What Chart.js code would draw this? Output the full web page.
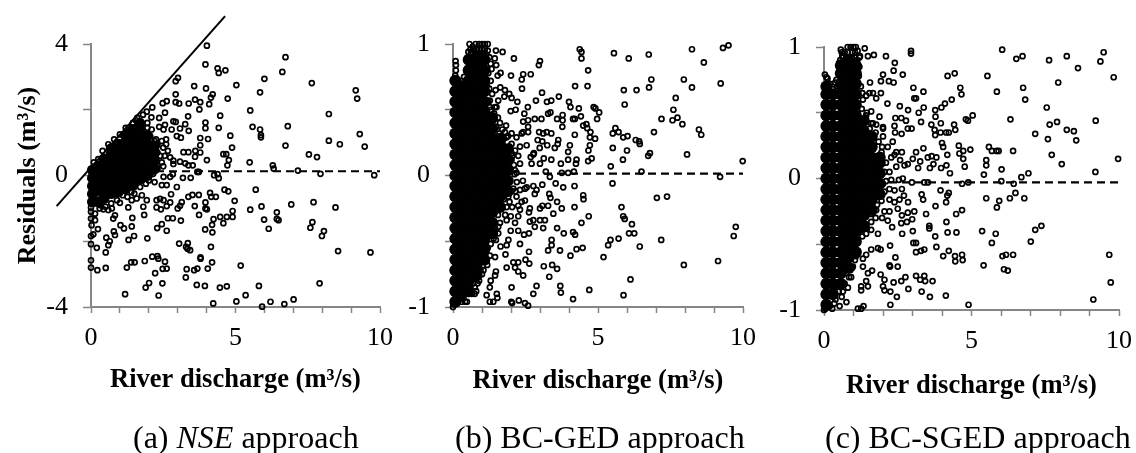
<!DOCTYPE html>
<html>
<head>
<meta charset="utf-8">
<title>Residuals vs river discharge</title>
<script src="https://cdn.jsdelivr.net/npm/chart.js@4"></script>
<style>
  html, body { margin: 0; padding: 0; background: #fff; }
  body { position: relative; width: 1136px; height: 453px; overflow: hidden; }
  .panel { position: absolute; top: 0; height: 420px; }
  .caption { position: absolute; top: 419px; font: 32px "Liberation Serif", serif; color: #000; white-space: nowrap; }
</style>
</head>
<body>
<div class="panel" style="left:0;width:400px"><canvas id="chartA"></canvas></div>
<div class="panel" style="left:380px;width:380px"><canvas id="chartB"></canvas></div>
<div class="panel" style="left:770px;width:366px"><canvas id="chartC"></canvas></div>
<div class="caption" style="left:133px">(a) <i>NSE</i> approach</div>
<div class="caption" style="left:455px">(b) BC-GED approach</div>
<div class="caption" style="left:825px">(c) BC-SGED approach</div>

<script>
// values: [discharge, residual]
const xTickLabels = [0, 5, 10];
const yTickLabelsA = [-4, 0, 4];
const yTickLabelsBC = [-1, 0, 1];
const xAxisTitle = 'River discharge (m³/s)';
const yAxisTitle = 'Residuals (m³/s)';

const boundA = [[-1.19, -0.93], [4.64, 4.85]];
const trendA = [[0, 0.13], [10, 0.13]];
const trendB = [[0, 0.015], [10, 0.015]];
const trendC = [[0, -0.03], [10, -0.03]];

const pointsA = [[4.01,3.95],[3.96,3.38],[4.38,3.26],[4.42,3.12],[4.65,3.2],[5.03,2.75],[3.01,2.97],[2.93,2.87],[3.57,2.72],[3.98,2.65],
[2.93,2.47],[4.21,2.47],[4.15,2.37],[4.73,2.34],[3.6,2.31],[3.78,2.23],[3.38,2.19],[4.09,2.17],[3.75,2.01],[2.62,2.26],[2.48,2.2],[2.93,2.23],[3.05,2.19],
[2.12,2.07],[1.93,1.94],[2.09,1.77],[2.36,1.75],[2.56,1.91],[3.36,1.8],[4.47,1.82],[3.96,1.61],[3.96,1.44],[4.42,1.45],[2.85,1.65],[2.93,1.63],[3.26,1.56],
[3.08,1.43],[3.38,1.36],[2.97,1.2],[3.11,1.15],[2.36,1.48],[2.56,1.54],[2.51,1.4],[2.79,1.4],[3.78,1.14],[4.05,1.11],[4.82,1.21],[4.88,0.85],[3.78,0.92],
[3.61,0.75],[3.2,0.71],[3.37,0.71],[3.78,0.7],[3.6,0.57],[4.01,0.47],[4.58,0.65],[4.68,0.65],[4.77,0.47],[4.72,0.31],[2.66,0.75],[2.74,0.55],[2.85,0.45],
[2.85,0.35],[3.08,0.42],[3.26,0.37],[3.37,0.31],[3.52,0.31],[3.68,0.11],[3.73,0.11],[3.18,-0.07],[3.45,-0.07],[2.83,0.04],[2.74,-0.04],[2.97,-0.35],[2.51,-0.04],
[2.45,-0.29],[2.62,-0.29],[4.26,0.01],[4.38,0.04],[4.42,-0.08],[5.49,0.4],[6.29,0.31],[6.32,0.21],[7.16,0.15],[7.94,0.05],[9.8,0.01],[5.51,1.98],[5.59,1.48],
[5.85,2.53],[6,2.94],[6.62,3.15],[6.73,3.6],[7.64,2.81],[9.16,2.59],[9.21,2.34],[8.23,1.87],[9.3,1.26],[9.47,0.88],[8.23,1.06],[8.61,0.95],[6.81,1.5],[6.73,0.91],
[5.85,1.4],[5.88,1.23],[5.88,1.16],[7.54,0.64],[7.82,0.56],[5.7,-0.43],[4.62,-0.43],[4.75,-0.48],[4.12,-0.53],[4.16,-0.65],[4.32,-0.65],[4.97,-0.77],[3.96,-0.82],
[3.96,-1],[4.01,-1.03],[3.73,-0.59],[3.51,-0.59],[3.37,-0.65],[3.59,-0.93],[3.14,-0.81],[3.08,-0.92],[3,-1],[5.51,-1.04],[5.9,-0.94],[6.43,-1.12],[6.93,-0.88],
[7.7,-0.81],[8.46,-0.97],[3.74,-1.2],[4.9,-1.08],[4.9,-1.26],[4.7,-1.26],[4.47,-1.26],[4.24,-1.33],[4.58,-1.45],[4.19,-1.5],[3.95,-1.64],[4.2,-1.73],[5.99,-1.34],
[6.43,-1.32],[6.49,-1.36],[6.15,-1.62],[7.66,-1.42],[7.59,-1.59],[8.06,-1.69],[7.99,-1.84],[8.55,-2.3],[9.67,-2.34],[5.18,-2.74],[7.91,-3.28],[5.81,-3.36],[5.35,-3.64],
[5.03,-3.83],[5.92,-3.99],[6.21,-3.84],[6.69,-3.91],[7.01,-3.77],[4.23,-3.89],[4.7,-3.37],[4.46,-3.41],[3.94,-3.36],[3.66,-3.33],[3.28,-3.1],[3.31,-2.85],[3.57,-2.88],
[3.68,-2.83],[4.04,-2.83],[4.19,-2.64],[3.79,-2.49],[3.79,-2.53],[4.15,-2.17],[3.05,-2.07],[3.35,-2.06],[3.29,-2.17],[3.34,-2.23],[3.43,-2.27],[3.11,-1.37],[2.66,-1.3],
[2.83,-1.3],[2.29,-1.6],[2.45,-1.48],[2.62,-1.68],[1.95,-1.91],[1.84,-1.2],[1.43,-1.29],[1.41,-1.55],[1.14,-1.61],[1.02,-1.51],[1.3,-1.96],[1.49,-1.84],[0.79,-1.7],
[0.83,-1.81],[0.65,-2],[0.53,-1.89],[0.6,-2.12],[0.51,-2.34],[0.24,-1.63],[0.08,-1.79],[0,-1.84],[0,-2.09],[0.2,-2.2],[0,-2.58],[0,-2.8],[0.22,-2.88],[0.51,-2.81],
[1.24,-2.8],[1.39,-2.64],[1.51,-2.64],[1.86,-2.6],[2.12,-2.47],[2.3,-2.45],[2.33,-2.53],[2.56,-2.62],[2.48,-2.84],[2.62,-2.83],[2.22,-2.97],[2.01,-3.27],[1.89,-3.41],
[2.47,-3.28],[2.34,-3.65],[1.18,-3.61],[2.27,-0.75],[2.39,-0.71],[1.93,-0.75],[1.76,-0.6],[1.58,-0.7],[1.41,-0.75],[1.26,-0.65],[1.29,-0.97],[1,-0.83],[0.83,-1.21],
[0.77,-1.31],[0.72,-1],[0.6,-1.05],[0.43,-1.03],[1.81,-0.95],[2.27,-0.97],[2.42,-1.03],[2.62,-0.93],[2.74,-0.82],[2.77,-0.57],[2.51,-0.75],[0,-0.97],[0,-1.31],[0.14,-1.16],
[0.02,-1.51],[0.14,-1.36],[1.6,1.75],[1.8,1.85],[1.45,1.6],[1.3,1.45],[1.72,1.65],[1.55,1.68],[1.95,1.6],[2.1,1.4],[2.25,1.1],[2.45,1.05],[2.6,0.95],[2.5,0.85],[2.3,0.7],
[2.45,0.4],[2.3,0.2],[2.5,0.28],[2.15,0.05],[2,-0.15],[2.2,-0.2],[1.7,-0.35],[1.4,-0.5],[1.1,-0.6],[0.5,-0.95],[0.3,-0.9],[2.6,1.1],[2.05,1.2],[2.55,0.6],
[0,0.2],[0.1,0.4],[0.25,0.5],[0.4,0.75],[0.6,0.95],[0.8,1.1],[1,1.25],[1.2,1.45],[2.4,0.6],[2.3,0.3],[2.2,1.05],[2.3,0.95],[1.95,1.45],[2.1,0.1],[1.9,-0.25],[1.5,-0.55],[0.9,-0.75],[0.3,-1],[0.7,-0.85],[0,-1.1]];

const pointsB = [[0.57,1],[0.53,0.94],[1.48,0.95],[1.71,0.94],[1.44,0.89],[1.49,0.84],[1.33,0.81],[1.18,0.81],[2.1,0.89],[3,0.87],[2.96,0.84],[4.37,0.96],[4.43,0.94],[4.43,0.89],
[4.66,0.8],[5.55,0.93],[6.06,0.89],[6.75,0.92],[8.24,0.96],[8.65,0.86],[9.31,0.97],[9.5,0.99],[9.23,0.7],[7.96,0.73],[6.84,0.73],[6.76,0.67],[6.33,0.65],[5.89,0.65],[8.24,0.67],
[7.68,0.59],[5.92,0.54],[7.6,0.5],[7.19,0.43],[7.57,0.42],[7.74,0.44],[7.91,0.39],[8.48,0.35],[8.56,0.31],[6.93,0.33],[5.6,0.36],[5.51,0.32],[5.71,0.33],[5.87,0.29],[6.02,0.3],
[6.3,0.27],[6.42,0.26],[6.44,0.24],[5.51,0.21],[6,0.19],[5.86,0.12],[6.73,0.15],[6.79,0.17],[8.07,0.16],[9.99,0.11],[5.44,0.07],[6.5,0.03],[9.21,-0.01],[5.5,-0.06],[7.03,-0.17],
[7.38,-0.16],[5.81,-0.24],[5.87,-0.31],[5.92,-0.33],[6.17,-0.37],[6.07,-0.44],[6.25,-0.44],[9.75,-0.39],[9.68,-0.46],[5.71,-0.48],[5.43,-0.49],[5.35,-0.53],[7.18,-0.49],[6.44,-0.54],
[5.19,-0.62],[7.96,-0.68],[9.14,-0.65],[6.12,-0.79],[5.88,-0.91],[4.7,-0.87],[4.14,-0.94],[4.68,-0.31],[4.43,-0.36],[4.49,-0.15],[4.5,-0.18],[4.19,-0.08],[4.19,-0.24],[4.21,0.68],
[4.64,0.68],[3.65,0.6],[4,0.56],[4.05,0.52],[4.34,0.51],[4.85,0.52],[4.91,0.51],[5.04,0.48],[4.97,0.43],[3.07,0.63],[2.86,0.57],[3.24,0.56],[3.39,0.57],[2.58,0.52],[2.46,0.47],
[2.16,0.5],[1.99,0.49],[2.38,0.66],[2.37,0.73],[2.42,0.77],[2.68,0.77],[2,0.76],[1.64,0.78],[1.54,0.76],[1.47,0.65],[1.63,0.67],[1.79,0.65],[1.94,0.62],[1.77,0.6],[2.02,0.59],
[2.22,0.56],[3.28,0.47],[3.36,0.48],[3.59,0.43],[3.78,0.46],[3.78,0.42],[3.77,0.37],[4.14,0.43],[4.2,0.43],[4.41,0.45],[4.49,0.38],[4.6,0.39],[4.63,0.36],[4.74,0.33],[4.72,0.29],
[4.9,0.28],[4.2,0.31],[3.63,0.27],[3.61,0.24],[2.97,0.33],[3.11,0.32],[3.23,0.33],[3.39,0.32],[2.92,0.27],[3.08,0.26],[2.99,0.21],[3.25,0.23],[3.51,0.21],[4.03,0.23],[3.97,0.18],
[4.72,0.23],[4.67,0.19],[4.78,0.13],[4.66,0.11],[4.26,0.12],[4.24,0.09],[3.97,0.12],[3.72,0.09],[3.39,0.12],[3.13,0.13],[3,0.09],[2.71,0.09],[2.68,0.14],[2.79,0.17],[3.2,0.03],
[3.34,-0.01],[3.54,-0.06],[3.8,-0.09],[3.75,0.02],[3.97,0.02],[4.17,0.03],[3.08,-0.07],[2.41,-0.04],[2.54,-0.09],[2.77,-0.08],[2.88,-0.11],[2.82,-0.14],[3.32,-0.14],[3.36,-0.17],
[3.59,-0.2],[3.75,-0.25],[3.28,-0.23],[3.08,-0.23],[3,-0.25],[3.46,-0.29],[2.65,-0.25],[2.62,-0.28],[2.77,-0.34],[2.65,-0.35],[3,-0.34],[3.17,-0.34],[3.11,-0.4],[2.82,-0.39],
[3.59,-0.4],[3.82,-0.44],[4.14,-0.43],[4.21,-0.45],[3.4,-0.49],[3.4,-0.53],[3.28,-0.57],[3.69,-0.57],[4.26,-0.56],[4.47,-0.55],[4.05,-0.61],[2.62,-0.58],[2.5,-0.64],[2.63,-0.67],
[3.13,-0.69],[3.42,-0.68],[3.59,-0.71],[3.32,-0.77],[3.7,-0.84],[3.72,-0.89],[2.88,-0.84],[2.77,-0.9],[2.02,-0.85],[2.01,-0.96],[2.04,-0.97],[2.27,-0.95],[2.48,-0.97],[2.59,-0.99],
[1.85,-0.7],[2.08,-0.66],[2.25,-0.66],[2.14,-0.7],[2.25,-0.73],[2.42,-0.76],[2.31,-0.52],[2.45,-0.45],[2.62,-0.44],[2.25,-0.42],[1.99,-0.42],[1.85,-0.53],[1.91,-0.49],[1.64,-0.54],
[1.81,-0.6],[1.27,-0.61],[1.45,-0.62],[1.18,-0.68],[1.48,-0.73],[1.45,-0.76],[1.3,-0.8],[1.27,-0.85],[1.16,-0.91],[1.27,-0.96],[1.39,-0.96],[1.53,-0.93],[1.51,-0.9],[1.85,-0.34],
[1.99,-0.31],[2.14,-0.36],[2.25,-0.31],[1.56,-0.39],[1.45,-0.4],[1.27,-0.4],[1.56,-0.44],[1.48,-0.49],[1.68,-0.24],[1.85,-0.24],[2.04,-0.24],[2.25,-0.23],[2.37,-0.2],[2.48,-0.19],
[2.31,-0.26],[2.19,-0.16],[2.02,-0.12],[1.91,-0.16],[2.08,-0.1],[2.31,-0.11],[2.48,-0.1],[2.19,0.02],[2.14,0.04],[2.31,0.09],[2.25,0.15],[2.02,0.17],[2.02,0.12],[2.14,0.19],[2.31,0.22],
[2.54,0.23],[2.77,0.16],[2.37,0.32],[2.42,0.33],[2.59,0.33],[2.59,0.37],[2.42,0.41],[2.82,0.43],[3.05,0.43],[2.59,0.42],[1.39,0.42],[1.62,0.4],[1.83,0.38],[1.79,0.33],[2.02,0.32],
[2.19,0.29],[1.85,0.29],[2.02,0.24],[1.16,0.68],[1.27,0.57],[1.5,0.52],[1.56,0.57],[1.27,0.52],[1.1,0.73],[0.78,1],[0.9,1],[1,1],[1.1,1],[1.2,1],[0.68,0.98],[0.62,0.93],[1.2,0.95],
[1.25,0.9],[0.09,0.87],[0.1,0.84],[0.1,0.8],[0.08,0.76],[0.12,0.73],[0,-1],[0.02,-0.98],[0.05,-0.95],[0.22,-0.92],[0.35,-0.93],[0.42,-0.96],[0.48,-0.96],[0.5,-0.8],[0.6,-0.85],
[0.75,-0.85],[0.55,-0.9],[0.75,-0.9],[0.8,-0.88],[0.85,-0.82],[0.9,-0.8],[1,-0.75],[0.9,-0.7],[1.05,-0.72],[1.15,-0.65],
[1.3,0.85],[1.22,0.78],[1.3,0.72],[1.25,0.66],[1.35,0.62],[1.3,0.5],[1.42,0.47],[1.55,0.44],[1.5,0.37],[1.7,0.35],[1.75,0.28],[1.9,0.3],[1.95,0.22],[2.05,0.15],[2.1,0.08],[2.12,0.01],
[2.2,-0.05],[2.15,-0.12],[1.95,-0.2],[1.75,-0.18],[1.8,-0.3],[1.55,-0.3],[1.62,-0.36],[1.4,-0.48],[1.3,-0.52],[1.2,-0.55],[1.1,-0.6],[1.05,-0.65],[0.95,-0.72],[0.9,-0.76],[0.7,-0.82],
[0.65,-0.9],[0.4,-0.88],[0.3,-0.96],[0.15,-0.97],[1.6,0.05],[1.75,0.1],[1.8,-0.05],[1.7,0.2],[1.6,0.32],[1.45,0.52],[1.15,0.7],[1.22,0.56],[1.4,0.3],[1.78,-0.12],[1.15,-0.5],
[0.2,0.7],[0.3,0.72],[0.38,0.75],[0.42,0.7],[0.45,0.66],
[0.6,0.96],[0.7,0.96],[0.8,0.96],[0.9,0.96],[1,0.96],[1.1,0.96],[0.65,0.92],[0.75,0.92],[0.85,0.92],[0.95,0.92],[1.05,0.92],[1.15,0.92],[0.55,0.9]];

const pointsC = [[6.04,0.98],[6.52,0.91],[6.73,0.93],[7.63,0.9],[8.23,0.93],[9.48,0.96],[9.37,0.89],[8.61,0.84],[9.82,0.77],[5.54,0.78],[7.94,0.73],[6.75,0.69],[6.82,0.6],[5.86,0.66],
[7.55,0.54],[6.32,0.45],[9.21,0.44],[7.65,0.41],[7.9,0.43],[8.23,0.37],[8.47,0.36],[8.55,0.29],[7.16,0.34],[7.59,0.3],[7.72,0.18],[8.06,0.11],[9.97,0.15],[9.2,0.05],[6.93,0.04],
[6.69,0.01],[5.59,0.24],[5.69,0.21],[5.85,0.21],[5.92,0.21],[6.41,0.21],[5.5,0.14],[5.5,0.1],[6.02,0.07],[5.42,0.03],[6.01,-0.02],[6.43,-0.04],[6.49,-0.11],[5.5,-0.15],[5.94,-0.17],
[5.86,-0.22],[6.3,-0.15],[6.79,-0.15],[7.37,-0.36],[7.16,-0.39],[7.01,-0.48],[5.36,-0.4],[5.82,-0.42],[5.69,-0.49],[6.41,-0.58],[6.17,-0.58],[6.05,-0.59],[5.41,-0.66],[6.1,-0.69],
[6.23,-0.7],[9.67,-0.58],[9.72,-0.79],[9.13,-0.92],[4.9,-0.96],[4.13,-0.89],[5.04,0.48],[4.81,0.45],[4.88,0.44],[4.33,0.6],[4.19,0.78],[4.43,0.8],[4.62,0.69],[4.66,0.64],[3.03,0.69],
[3.37,0.66],[3.06,0.61],[3.12,0.61],[2.95,0.97],[2.95,0.95],[2.4,0.88],[2.36,0.82],[2.67,0.79],[2.1,0.93],[1.69,0.94],[1.49,0.93],[2,0.79],[1.93,0.74],[2.2,0.74],[2.36,0.73],[1.56,0.73],
[1.93,0.65],[2.15,0.57],[2.57,0.55],[2.85,0.52],[3.38,0.54],[3.21,0.5],[3.77,0.52],[3.78,0.47],[3.98,0.54],[4.1,0.57],[3.29,0.43],[3.64,0.41],[3.96,0.42],[4.41,0.41],[4.45,0.37],
[4.14,0.35],[4.23,0.35],[3.95,0.35],[3.75,0.37],[3.77,0.33],[4,0.27],[4.04,0.24],[4.57,0.25],[4.18,0.18],[4.59,0.19],[4.72,0.21],[4.96,0.22],[4.72,0.15],[4.77,0.09],[4.15,0.1],
[3.97,0.08],[4.27,0.04],[3.71,0.11],[3.59,0.08],[3.52,0.16],[3.65,0.17],[3.81,0.16],[3.37,0.23],[3.12,0.2],[3.26,0.13],[3.19,0.08],[2.42,0.46],[2.62,0.46],[2.78,0.44],[2.39,0.4],
[2.84,0.38],[2.97,0.38],[2.41,0.35],[2.63,0.34],[2,0.39],[2,0.32],[2.33,0.28],[1.97,0.24],[2.16,0.24],[2.45,0.2],[2.64,0.2],[2.39,0.18],[2.28,0.16],[2.58,0.14],[2.73,0.1],[2.84,0.11],
[3.01,0.15],[2.45,0.09],[2.22,0.05],[2.54,-0.01],[2.67,0],[2.98,-0.03],[3.4,-0.03],[3.52,-0.03],[2,-0.04],[2.28,-0.01],[2.22,-0.08],[2.39,-0.09],[2.64,-0.08],[2.71,-0.13],[2.56,-0.16],
[2.39,-0.18],[2.22,-0.16],[3.31,-0.12],[3.36,-0.16],[3.95,-0.09],[4.23,-0.11],[4.18,-0.13],[4.14,-0.18],[3.78,-0.21],[3.46,-0.27],[2.85,-0.18],[3.06,-0.25],[2.84,-0.26],[2.99,-0.31],
[2.81,-0.33],[2.62,-0.34],[2.65,-0.42],[2.31,-0.37],[2.16,-0.32],[1.97,-0.3],[2.5,-0.23],[2.64,-0.28],[2.22,-0.25],[2.05,-0.25],[1.77,-0.24],[1.6,-0.27],[4.68,-0.04],[4.89,-0.03],
[4.68,-0.24],[4.48,-0.27],[4.15,-0.33],[4.19,-0.41],[4.49,-0.41],[3.57,-0.36],[3.57,-0.38],[3.77,-0.44],[3.01,-0.4],[3.03,-0.49],[3.12,-0.49],[3.12,-0.56],[3.29,-0.55],[3.4,-0.54],
[3.81,-0.52],[4.23,-0.55],[4.04,-0.59],[4.44,-0.59],[4.68,-0.58],[4.45,-0.63],[4.7,-0.62],[2.24,-0.51],[2.42,-0.6],[2.22,-0.66],[2.24,-0.67],[2.5,-0.67],[1.83,-0.53],[1.92,-0.54],
[1.6,-0.54],[1.43,-0.58],[1.32,-0.61],[1.6,-0.39],[1.43,-0.42],[1.83,-0.42],[1.26,-0.39],[2.76,-0.75],[2.62,-0.78],[2.36,-0.79],[3.12,-0.74],[3.26,-0.77],[3.4,-0.74],[3.43,-0.78],
[3.68,-0.78],[2.86,-0.84],[3.31,-0.86],[3.59,-0.9],[2.47,-0.9],[2.25,-0.86],[2.25,-0.96],[1.92,-0.73],[2.05,-0.77],[2,-0.82],[2.05,-0.85],[1.63,-0.7],[1.49,-0.72],[1.43,-0.78],
[1.49,-0.82],[1.26,-0.82],[1.26,-0.85],[1.15,-0.99],[1.26,-0.99],[1.34,-0.97],[0.76,-0.94],[0.53,-0.97],[0.39,-0.92],[0.28,-0.99],[0.81,-0.83],[0.64,-0.86],[0.42,-0.82],[0.92,-0.75],
[0.98,-0.67],[1.32,-0.67],[1.09,-0.59],[1.38,0.99],[0.42,0.75],[1.54,0.65],[1.66,0.65],[1.43,0.63],[1.77,0.61],[1.32,0.6],[1.6,0.51],[1.43,0.48],[1.88,0.47],[1.66,0.42],[1.77,0.41],
[2,0.38],[0.57,0.98],[0.62,0.93],[0.52,0.88],[0.8,1],[0.9,1],[1,1],[1.08,1],[1.14,0.97],[1.2,0.92],[0.03,0.79],[0.08,0.77],[0,-1],[0.05,-0.99],[0.1,-0.97],
[1.22,0.93],[1.2,0.85],[1.18,0.78],[1.25,0.7],[1.3,0.65],[1.28,0.53],[1.45,0.5],[1.6,0.42],[1.55,0.38],[1.75,0.35],[1.85,0.28],[1.95,0.2],[2.1,0.12],[2.05,0.05],[2.1,-0.02],[2.05,-0.1],
[1.95,-0.17],[1.8,-0.2],[1.75,-0.3],[1.6,-0.33],[1.45,-0.38],[1.3,-0.44],[1.15,-0.55],[1.05,-0.62],[0.95,-0.68],[0.85,-0.75],[0.7,-0.8],[0.6,-0.9],[0.5,-0.86],[0.35,-0.95],[0.2,-0.97],
[0.45,0.7],[0.38,0.73],[0.2,0.72],[0.12,0.76],[0.3,0.68],[1.72,0.05],[1.8,0.12],[1.65,-0.18],[1.5,0.25],
[0.6,0.96],[0.7,0.96],[0.8,0.96],[0.95,0.96],[1.05,0.96],[0.65,0.92],[0.75,0.92],[0.85,0.92],[0.95,0.92],[1.05,0.92],[1.12,0.9],[0.55,0.9]];

// where the marks run solid the single points can't be read, so these columns
// are [discharge, [residuals]] of the black mass, drawn as larger filled dots
const coreA = [[0.05, [-0.8,-0.56,-0.32,-0.08,0.16]],
[0.25, [-0.8,-0.46,-0.22,0.02,0.26]],
[0.45, [-0.7,-0.46,-0.22,0.02,0.26,0.5]],
[0.7, [-0.55,-0.31,-0.07,0.17,0.41,0.65,0.82]],
[0.95, [-0.5,-0.26,-0.02,0.22,0.46,0.7,0.95]],
[1.2, [-0.4,-0.16,0.08,0.32,0.56,0.8,1.04,1.22]],
[1.45, [-0.3,-0.06,0.18,0.42,0.66,0.9,1.14,1.4]],
[1.7, [-0.1,0.14,0.38,0.62,0.86,1.1,1.35,1.58]],
[1.95, [0,0.2,0.45,0.7,0.95,1.2]],
[2.2, [0.2,0.45,0.7,0.9]]];
const coreB = [[0.08, [-0.96,-0.88,-0.8,-0.72,-0.64,-0.56,-0.48,-0.4,-0.32,-0.24,-0.16,-0.08,0,0.08,0.16,0.24,0.32,0.4,0.48,0.56,0.64,0.72]],
[0.27, [-0.92,-0.84,-0.76,-0.68,-0.6,-0.52,-0.44,-0.36,-0.28,-0.2,-0.12,-0.04,0.04,0.12,0.2,0.28,0.36,0.44,0.52,0.6,0.68]],
[0.54, [-0.88,-0.8,-0.72,-0.64,-0.56,-0.48,-0.4,-0.32,-0.24,-0.16,-0.08,0,0.08,0.16,0.24,0.32,0.4,0.48,0.56,0.64,0.72,0.8,0.88]],
[0.81, [-0.76,-0.68,-0.6,-0.52,-0.44,-0.36,-0.28,-0.2,-0.12,-0.04,0.04,0.12,0.2,0.28,0.36,0.44,0.52,0.6,0.68,0.76,0.84,0.9]],
[1.08, [-0.64,-0.56,-0.48,-0.4,-0.32,-0.24,-0.16,-0.08,0,0.08,0.16,0.24,0.32,0.4,0.48,0.56,0.64,0.72,0.8,0.88]],
[1.35, [-0.44,-0.36,-0.28,-0.2,-0.12,-0.04,0.04,0.12,0.2,0.28,0.36,0.44]],
[1.62, [-0.24,-0.16,-0.08,0,0.08,0.16,0.24,0.28]],
[1.89, [-0.12,-0.04,0.04,0.12,0.2]]];
const coreC = [[0.08, [-0.96,-0.88,-0.8,-0.72,-0.64,-0.56,-0.48,-0.4,-0.32,-0.24,-0.16,-0.08,0,0.08,0.16,0.24,0.32,0.4,0.48,0.56,0.64,0.7]],
[0.3, [-0.88,-0.8,-0.72,-0.64,-0.56,-0.48,-0.4,-0.32,-0.24,-0.16,-0.08,0,0.08,0.16,0.24,0.32,0.4,0.48,0.56,0.64]],
[0.57, [-0.8,-0.72,-0.64,-0.56,-0.48,-0.4,-0.32,-0.24,-0.16,-0.08,0,0.08,0.16,0.24,0.32,0.4,0.48,0.56,0.64,0.72,0.8,0.86]],
[0.84, [-0.68,-0.6,-0.52,-0.44,-0.36,-0.28,-0.2,-0.12,-0.04,0.04,0.12,0.2,0.28,0.36,0.44,0.52,0.6,0.68,0.76,0.84,0.9]],
[1.08, [-0.56,-0.48,-0.4,-0.32,-0.24,-0.16,-0.08,0,0.08,0.16,0.24,0.32,0.4,0.48,0.56,0.64,0.72,0.8,0.86]],
[1.35, [-0.36,-0.28,-0.2,-0.12,-0.04,0.04,0.12,0.2,0.28,0.36,0.44]],
[1.62, [-0.24,-0.16,-0.08,0,0.08,0.16,0.24,0.32]],
[1.89, [-0.12,-0.04,0.04,0.12,0.16]]];

const toXY = pairs => pairs.map(([x, y]) => ({ x, y }));
const coreToXY = cols => cols.flatMap(([x, ys]) => ys.map(y => ({ x, y })));

const axisGrey = '#868686';
const serif = '"Liberation Serif", serif';

function makePanel(id, cfg) {
  const canvas = document.getElementById(id);
  const datasets = [
    { data: toXY(cfg.trend), showLine: true, pointRadius: 0, borderColor: '#000', borderWidth: 2.2, borderDash: [8, 5], clip: false },
    { data: toXY(cfg.points), showLine: false, pointRadius: 2.5, borderColor: '#000', borderWidth: 1.7,
      backgroundColor: 'rgba(0,0,0,0)', clip: false },
    { data: coreToXY(cfg.core), showLine: false, pointRadius: cfg.coreRadius, borderWidth: 0,
      backgroundColor: '#000', clip: false }
  ];
  if (cfg.bound) {
    datasets.unshift({ data: toXY(cfg.bound), showLine: true, pointRadius: 0, borderColor: '#000', borderWidth: 2, clip: false });
  }

  return new Chart(canvas.getContext('2d'), {
    type: 'scatter',
    data: { datasets },
    options: {
      responsive: true,
      maintainAspectRatio: false,
      animation: false,
      events: [],
      layout: { padding: cfg.padding },
      plugins: { legend: { display: false }, tooltip: { enabled: false } },
      scales: {
        x: {
          type: 'linear', min: 0, max: 10,
          afterFit: s => { s.height = cfg.xHeight; s.paddingLeft = 0; s.paddingRight = 0; },
          border: { color: axisGrey, width: 2 },
          grid: { drawOnChartArea: false, drawTicks: true, tickLength: 6, tickWidth: 1.5, tickColor: axisGrey },
          ticks: {
            stepSize: 1, autoSkip: false, maxRotation: 0, padding: 10, color: '#000',
            font: { family: serif, size: 26 },
            callback: v => xTickLabels.includes(v) ? String(v) : ''
          },
          title: { display: true, text: xAxisTitle, color: '#000', font: { family: serif, size: 26.5, weight: 'bold' },
            padding: { top: 0, bottom: cfg.titleBottom } }
        },
        y: {
          type: 'linear', min: cfg.yTicks[0], max: cfg.yTicks[2],
          afterFit: s => { s.width = cfg.yWidth; },
          border: { color: axisGrey, width: 2 },
          grid: { drawOnChartArea: false, drawTicks: true, tickLength: 8, tickWidth: 1.5, tickColor: axisGrey },
          ticks: {
            stepSize: cfg.yStep, autoSkip: false, padding: 15, color: '#000',
            font: { family: serif, size: 26 },
            callback: v => cfg.yTicks.includes(v) ? String(v) : ''
          },
          title: { display: !!cfg.yTitle, text: cfg.yTitle || '', color: '#000', font: { family: serif, size: 26, weight: 'bold' }, padding: 0 }
        }
      }
    }
  });
}

makePanel('chartA', { points: pointsA, core: coreA, coreRadius: 5.5, trend: trendA, bound: boundA, yTicks: yTickLabelsA, yStep: 2, yTitle: yAxisTitle,
  padding: { left: 13, top: 44, right: 20, bottom: 0 }, yWidth: 78, xHeight: 113, titleBottom: 24 });
makePanel('chartB', { points: pointsB, core: coreB, coreRadius: 6, trend: trendB, yTicks: yTickLabelsBC, yStep: 0.5,
  padding: { left: 0, top: 44, right: 17, bottom: 0 }, yWidth: 73, xHeight: 113, titleBottom: 23 });
makePanel('chartC', { points: pointsC, core: coreC, coreRadius: 6, trend: trendC, yTicks: yTickLabelsBC, yStep: 0.5,
  padding: { left: 0, top: 47, right: 17, bottom: 0 }, yWidth: 54, xHeight: 110, titleBottom: 18 });
</script>
</body>
</html>
